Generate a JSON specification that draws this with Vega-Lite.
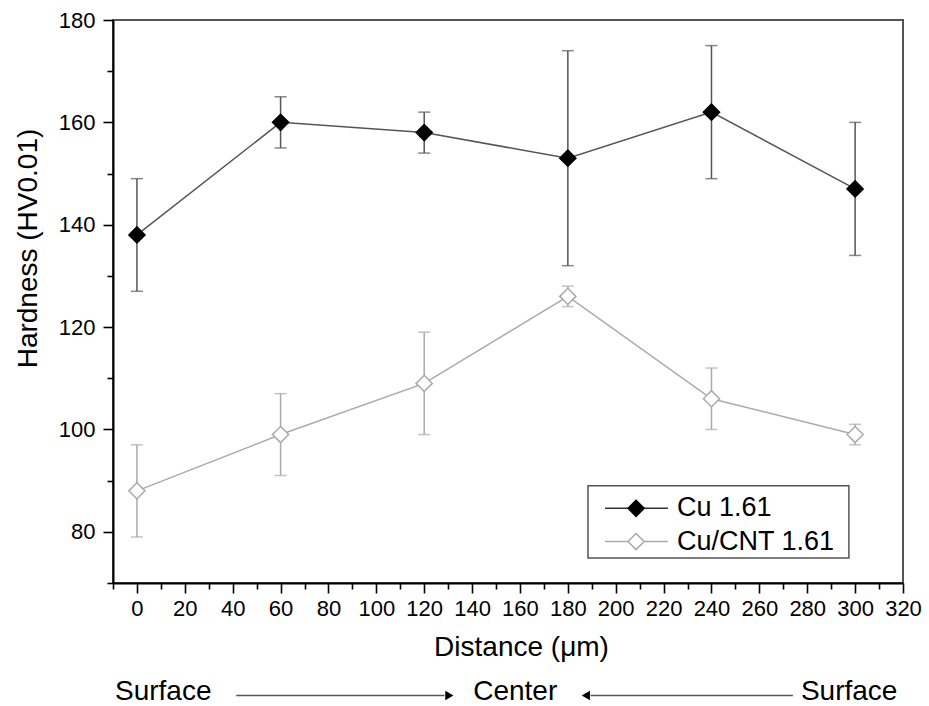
{
  "$schema": "https://vega.github.io/schema/vega-lite/v6.json",
  "width": 790,
  "height": 563,
  "autosize": {"type": "none"},
  "padding": {"left": 113, "top": 20, "right": 26, "bottom": 123},
  "background": "white",
  "config": {
    "font": "Liberation Sans",
    "view": {"stroke": "#555555", "strokeWidth": 2},
    "axis": {
      "grid": false,
      "domainColor": "#000000",
      "domainWidth": 2,
      "tickColor": "#000000",
      "tickWidth": 1.6,
      "labelFont": "Liberation Sans",
      "labelFontSize": 22,
      "labelColor": "#000000",
      "titleFont": "Liberation Sans",
      "titleFontSize": 28,
      "titleFontWeight": "normal",
      "titleColor": "#000000"
    }
  },
  "resolve": {"axis": {"x": "independent", "y": "independent"}},
  "datasets": {
    "main": [
      {"series": "Cu/CNT 1.61", "x": 0, "y": 88, "lo": 79, "hi": 97},
      {"series": "Cu/CNT 1.61", "x": 60, "y": 99, "lo": 91, "hi": 107},
      {"series": "Cu/CNT 1.61", "x": 120, "y": 109, "lo": 99, "hi": 119},
      {"series": "Cu/CNT 1.61", "x": 180, "y": 126, "lo": 124, "hi": 128},
      {"series": "Cu/CNT 1.61", "x": 240, "y": 106, "lo": 100, "hi": 112},
      {"series": "Cu/CNT 1.61", "x": 300, "y": 99, "lo": 97, "hi": 101},
      {"series": "Cu 1.61", "x": 0, "y": 138, "lo": 127, "hi": 149},
      {"series": "Cu 1.61", "x": 60, "y": 160, "lo": 155, "hi": 165},
      {"series": "Cu 1.61", "x": 120, "y": 158, "lo": 154, "hi": 162},
      {"series": "Cu 1.61", "x": 180, "y": 153, "lo": 132, "hi": 174},
      {"series": "Cu 1.61", "x": 240, "y": 162, "lo": 149, "hi": 175},
      {"series": "Cu 1.61", "x": 300, "y": 147, "lo": 134, "hi": 160}
    ],
    "legendbox": [{"x1": 188.4, "x2": 297.4, "y1": 74.9, "y2": 89.0}],
    "legenditems": [
      {"series": "Cu 1.61", "y": 84.6, "xa": 195.5, "xb": 221.8, "xm": 208.5, "xt": 225.6},
      {"series": "Cu/CNT 1.61", "y": 78.1, "xa": 195.5, "xb": 221.8, "xm": 208.5, "xt": 225.6}
    ],
    "notes": [
      {"label": "Surface", "x": 11, "y": 48.8},
      {"label": "Center", "x": 158, "y": 48.8},
      {"label": "Surface", "x": 297.5, "y": 48.8}
    ],
    "arrows": [
      {"x1": 41.5, "x2": 128.5, "head": 130.5, "dir": "triangle-right", "y": 48.0},
      {"x1": 189.5, "x2": 274, "head": 187.5, "dir": "triangle-left", "y": 48.0}
    ]
  },
  "layer": [
    {
      "data": {"name": "main"},
      "mark": {"type": "line", "strokeWidth": 1.5},
      "encoding": {
        "x": {
          "field": "x", "type": "quantitative",
          "scale": {"domain": [-10, 320], "nice": false, "zero": false},
          "axis": {
            "orient": "bottom",
            "title": "Distance (μm)",
            "values": [0, 20, 40, 60, 80, 100, 120, 140, 160, 180, 200, 220, 240, 260, 280, 300, 320],
            "tickSize": 10,
            "labelPadding": 5,
            "titlePadding": 14,
            "titleX": 408,
            "labelFlush": false,
            "labelOverlap": false
          }
        },
        "y": {
          "field": "y", "type": "quantitative",
          "scale": {"domain": [70, 180], "nice": false, "zero": false},
          "axis": {
            "orient": "left",
            "title": "Hardness (HV0.01)",
            "values": [80, 100, 120, 140, 160, 180],
            "tickSize": 10,
            "labelPadding": 8,
            "titlePadding": 16,
            "titleY": 228,
            "labelFlush": false,
            "labelOverlap": false
          }
        },
        "detail": {"field": "series"},
        "color": {"condition": {"test": "datum.series === 'Cu 1.61'", "value": "#555555"}, "value": "#aaaaaa"}
      }
    },
    {
      "data": {"name": "main"},
      "mark": {"type": "rule", "strokeWidth": 1.5},
      "encoding": {
        "x": {
          "field": "x", "type": "quantitative",
          "axis": {
            "orient": "bottom",
            "title": null,
            "values": [-10, 10, 30, 50, 70, 90, 110, 130, 150, 170, 190, 210, 230, 250, 270, 290, 310],
            "tickSize": 6,
            "labels": false,
            "domain": false
          }
        },
        "y": {
          "field": "lo", "type": "quantitative",
          "axis": {
            "orient": "left",
            "title": null,
            "values": [70, 90, 110, 130, 150, 170],
            "tickSize": 6,
            "labels": false,
            "domain": false
          }
        },
        "y2": {"field": "hi"},
        "color": {"condition": {"test": "datum.series === 'Cu 1.61'", "value": "#555555"}, "value": "#aaaaaa"}
      }
    },
    {
      "data": {"name": "main"},
      "mark": {"type": "tick", "orient": "horizontal", "size": 12, "thickness": 1.5},
      "encoding": {
        "x": {"field": "x", "type": "quantitative", "axis": null},
        "y": {"field": "lo", "type": "quantitative", "axis": null},
        "color": {"condition": {"test": "datum.series === 'Cu 1.61'", "value": "#555555"}, "value": "#aaaaaa"}
      }
    },
    {
      "data": {"name": "main"},
      "mark": {"type": "tick", "orient": "horizontal", "size": 12, "thickness": 1.5},
      "encoding": {
        "x": {"field": "x", "type": "quantitative", "axis": null},
        "y": {"field": "hi", "type": "quantitative", "axis": null},
        "color": {"condition": {"test": "datum.series === 'Cu 1.61'", "value": "#555555"}, "value": "#aaaaaa"}
      }
    },
    {
      "data": {"name": "main"},
      "mark": {"type": "point", "shape": "diamond", "size": 260, "strokeWidth": 1.5, "opacity": 1, "filled": false},
      "encoding": {
        "x": {"field": "x", "type": "quantitative", "axis": null},
        "y": {"field": "y", "type": "quantitative", "axis": null},
        "fill": {"condition": {"test": "datum.series === 'Cu 1.61'", "value": "#000000"}, "value": "#ffffff"},
        "stroke": {"condition": {"test": "datum.series === 'Cu 1.61'", "value": "#000000"}, "value": "#aaaaaa"}
      }
    },
    {
      "data": {"name": "legendbox"},
      "mark": {"type": "rect", "fill": "#ffffff", "stroke": "#555555", "strokeWidth": 1.5},
      "encoding": {
        "x": {"field": "x1", "type": "quantitative", "axis": null},
        "x2": {"field": "x2"},
        "y": {"field": "y1", "type": "quantitative", "axis": null},
        "y2": {"field": "y2"}
      }
    },
    {
      "data": {"name": "legenditems"},
      "mark": {"type": "rule", "strokeWidth": 1.5},
      "encoding": {
        "x": {"field": "xa", "type": "quantitative", "axis": null},
        "x2": {"field": "xb"},
        "y": {"field": "y", "type": "quantitative", "axis": null},
        "color": {"condition": {"test": "datum.series === 'Cu 1.61'", "value": "#333333"}, "value": "#aaaaaa"}
      }
    },
    {
      "data": {"name": "legenditems"},
      "mark": {"type": "point", "shape": "diamond", "size": 260, "strokeWidth": 1.5, "opacity": 1, "filled": false},
      "encoding": {
        "x": {"field": "xm", "type": "quantitative", "axis": null},
        "y": {"field": "y", "type": "quantitative", "axis": null},
        "fill": {"condition": {"test": "datum.series === 'Cu 1.61'", "value": "#000000"}, "value": "#ffffff"},
        "stroke": {"condition": {"test": "datum.series === 'Cu 1.61'", "value": "#000000"}, "value": "#aaaaaa"}
      }
    },
    {
      "data": {"name": "legenditems"},
      "mark": {"type": "text", "align": "left", "baseline": "middle", "fontSize": 27, "font": "Liberation Sans", "color": "#000000"},
      "encoding": {
        "x": {"field": "xt", "type": "quantitative", "axis": null},
        "y": {"field": "y", "type": "quantitative", "axis": null},
        "text": {"field": "series"}
      }
    },
    {
      "data": {"name": "notes"},
      "mark": {"type": "text", "align": "center", "baseline": "middle", "fontSize": 28, "font": "Liberation Sans", "color": "#000000"},
      "encoding": {
        "x": {"field": "x", "type": "quantitative", "axis": null},
        "y": {"field": "y", "type": "quantitative", "axis": null},
        "text": {"field": "label"}
      }
    },
    {
      "data": {"name": "arrows"},
      "mark": {"type": "rule", "strokeWidth": 1.5, "color": "#555555"},
      "encoding": {
        "x": {"field": "x1", "type": "quantitative", "axis": null},
        "x2": {"field": "x2"},
        "y": {"field": "y", "type": "quantitative", "axis": null}
      }
    },
    {
      "data": {"name": "arrows"},
      "mark": {"type": "point", "filled": true, "size": 90, "color": "#000000", "opacity": 1},
      "encoding": {
        "x": {"field": "head", "type": "quantitative", "axis": null},
        "y": {"field": "y", "type": "quantitative", "axis": null},
        "shape": {"field": "dir", "type": "nominal", "scale": null, "legend": null}
      }
    }
  ]
}
